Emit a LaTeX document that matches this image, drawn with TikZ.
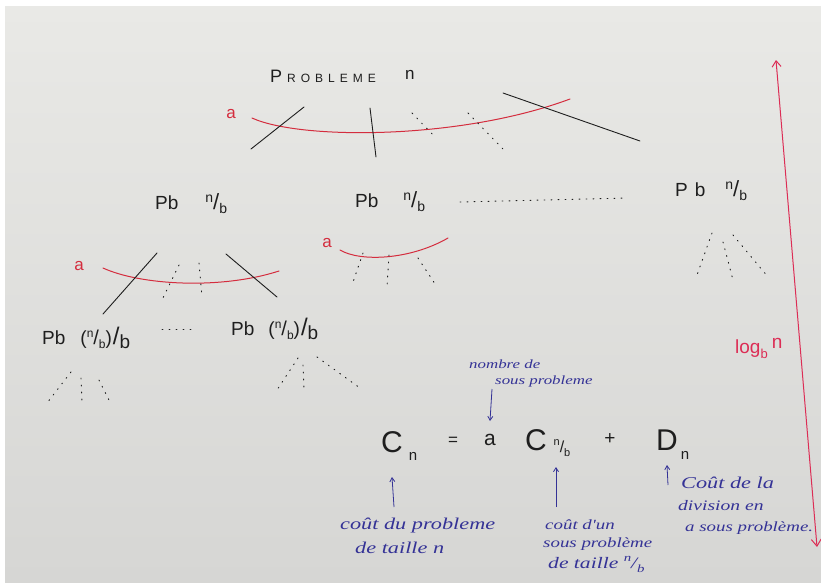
\documentclass[tikz,border=0pt]{standalone}
\usepackage{fontspec}
\usetikzlibrary{arrows.meta}
\newfontfamily\inkfont{Liberation Sans}
\newfontfamily\bluefont[FakeStretch=1.35]{Liberation Serif}
\definecolor{ink}{RGB}{30,30,30}
\definecolor{redink}{RGB}{212,45,62}
\definecolor{arrred}{RGB}{220,45,85}
\definecolor{blueink}{RGB}{52,50,150}
\definecolor{paperTop}{RGB}{233,233,230}
\definecolor{paperBot}{RGB}{214,214,212}
% \handfrac[digit size][slash size]{num}{den}
\newcommand\handfrac[4][14]{\raisebox{7pt}{\fontsize{#1}{#1}\selectfont #3}{\fontsize{#2}{#2}\selectfont /}\raisebox{-4pt}{\fontsize{#1}{#1}\selectfont #4}}
\begin{document}
\begin{tikzpicture}[x=1pt,y=-1pt,
  blk/.style={draw=ink, line width=0.9pt, line cap=round},
  dotl/.style={draw=ink, line width=0.9pt, line cap=round, dash pattern=on 1pt off 6pt},
  redl/.style={draw=redink, line width=1pt, line cap=round},
  bluel/.style={draw=blueink, line width=0.8pt, -{Straight Barb[length=4pt,width=5pt]}},
  blktxt/.style={inner sep=0, anchor=west, text=ink, font=\inkfont\fontsize{19}{19}\selectfont},
  redtxt/.style={inner sep=0, text=redink, font=\inkfont\fontsize{17}{17}\selectfont},
  bluetxt/.style={inner sep=0, anchor=west, text=blueink, font=\bluefont\itshape\fontsize{14}{14}\selectfont},
  eqtxt/.style={inner sep=0, text=ink, font=\inkfont\fontsize{30}{30}\selectfont},
  eqsub/.style={inner sep=0, text=ink, font=\inkfont\fontsize{15}{15}\selectfont},
]
\useasboundingbox (0,0) rectangle (821,582);
\fill[white] (0,0) rectangle (821,582);
\shade[top color=paperTop, bottom color=paperBot] (5,6) rectangle (821,582);

% ---------- level 1 ----------
\node[blktxt] (prob) at (270,76) {{\fontsize{18}{18}\selectfont P}\kern5pt{\fontsize{12}{12}\selectfont R\kern5pt O\kern5pt B\kern5pt L\kern5pt E\kern5pt M\kern5pt E}};
\node[blktxt, font=\inkfont\fontsize{17}{17}\selectfont] (probn) at (405,75) {n};
\node[redtxt] (a1) at (231,114) {a};
\draw[redl] (252,118) .. controls (300,140) and (460,140) .. (570,99);
\draw[blk] (304,107) -- (251,149);
\draw[blk] (370,108) -- (376,157);
\draw[dotl] (412,113) -- (436,138);
\draw[dotl] (468,113) -- (504,150);
\draw[blk] (503,93) -- (640,141);

% ---------- level 2 ----------
\node[blktxt] (pbL) at (155,204) {Pb\hspace{27pt}\handfrac{22}{n}{b}};
\node[blktxt] (pbM) at (355,202) {Pb\hspace{25pt}\handfrac{22}{n}{b}};
\node[blktxt] (pbR) at (675,191) {P\hspace{7pt}b\hspace{20pt}\handfrac{22}{n}{b}};
\draw[dotl] (460,202) -- (627,198);

\node[redtxt] (a2) at (79,266) {a};
\draw[redl] (103,268) .. controls (140,285) and (220,290) .. (279,271);
\draw[blk] (157,253) -- (103,314);
\draw[blk] (226,254) -- (277,297);
\draw[dotl] (179,265) -- (161,302);
\draw[dotl] (199,263) -- (202,297);

\node[redtxt] (a3) at (327,243) {a};
\draw[redl] (340,250) .. controls (360,262) and (410,260) .. (448,238);
\draw[dotl] (363,253) -- (352,285);
\draw[dotl] (389,255) -- (387,287);
\draw[dotl] (418,258) -- (437,287);

\draw[dotl] (712,233) -- (697,275);
\draw[dotl] (723,242) -- (733,280);
\draw[dotl] (733,235) -- (768,277);

% ---------- level 3 ----------
\node[blktxt] (pbLL) at (42,338) {Pb\hspace{15pt}(\handfrac[12]{20}{n}{b})\kern1pt{\fontsize{24}{24}\selectfont/}\raisebox{-4pt}{b}};
\node[blktxt] (pbLR) at (231,329) {Pb\hspace{14pt}(\handfrac[12]{20}{n}{b})\kern1pt{\fontsize{24}{24}\selectfont/}\raisebox{-4pt}{b}};
\draw[dotl] (162,329) -- (197,329);

\draw[dotl] (71,372) -- (47,403);
\draw[dotl] (81,378) -- (82,403);
\draw[dotl] (99,380) -- (110,402);
\draw[dotl] (298,358) -- (277,390);
\draw[dotl] (303,365) -- (304,390);
\draw[dotl] (317,357) -- (360,388);

% ---------- log_b n arrow ----------
\coordinate (logtop) at (776,60);
\coordinate (logbot) at (817,547);
\draw[draw=arrred, line width=1pt, {Straight Barb[length=6pt,width=9pt]}-{Straight Barb[length=7pt,width=10pt]}] (logtop) -- (logbot);
\node[inner sep=0, anchor=west, text=arrred, font=\inkfont\fontsize{19}{19}\selectfont] (logn) at (735,348) {log\raisebox{-5pt}{\fontsize{13}{13}\selectfont b}\hspace{4pt}\raisebox{5pt}{n}};

% ---------- equation ----------
\node[eqtxt] (C1) at (392,442) {C};
\node[eqsub] (C1s) at (413,456) {n};
\node[inner sep=0, text=ink, font=\inkfont\fontsize{17}{17}\selectfont] (eq) at (453,441) {=};
\node[inner sep=0, text=ink, font=\inkfont\fontsize{21}{21}\selectfont] (aa) at (490,440) {a};
\node[eqtxt] (C2) at (536,440) {C};
\node[eqsub] (C2s) at (562,448) {\handfrac[11]{16}{n}{b}};
\node[inner sep=0, text=ink, font=\inkfont\fontsize{19}{19}\selectfont] (plus) at (610,439) {+};
\node[eqtxt] (D) at (667,440) {D};
\node[eqsub] (Ds) at (685,455) {n};

% ---------- blue annotations ----------
\node[bluetxt, font=\bluefont\itshape\fontsize{12.5}{12.5}\selectfont] (nb1) at (469,364) {nombre de};
\node[bluetxt, font=\bluefont\itshape\fontsize{12.5}{12.5}\selectfont] (nb2) at (495,381) {sous probleme};
\coordinate (nbs) at (492,389);
\draw[bluel] (nbs) -- (aa.north |- 0,421);

\node[bluetxt, font=\bluefont\itshape\fontsize{16.5}{16.5}\selectfont] (cp1) at (340,526) {coût du probleme};
\node[bluetxt, font=\bluefont\itshape\fontsize{16.5}{16.5}\selectfont] (cp2) at (355,548) {de taille n};
\coordinate (cpA) at (394,507);
\draw[bluel] (cpA) -- (C1.south |- 0,477);

\node[bluetxt] (cs1) at (545,525) {coût d'un};
\node[bluetxt] (cs2) at (543,544) {sous problème};
\node[bluetxt, font=\bluefont\itshape\fontsize{16}{16}\selectfont] (cs3) at (548,564) {de taille \handfrac[11]{16}{n}{b}};
\coordinate (csA) at (556,507);
\draw[bluel] (csA) -- (556,467);

\node[bluetxt, font=\bluefont\itshape\fontsize{16.5}{16.5}\selectfont] (cd1) at (681,483) {Coût de la};
\node[bluetxt, font=\bluefont\itshape\fontsize{14.5}{14.5}\selectfont] (cd2) at (678,506) {division en};
\node[bluetxt, font=\bluefont\itshape\fontsize{14}{14}\selectfont] (cd3) at (685,528) {a sous problème.};
\coordinate (cdA) at (668,485);
\draw[bluel] (cdA) -- (667,465);
\end{tikzpicture}
\end{document}
